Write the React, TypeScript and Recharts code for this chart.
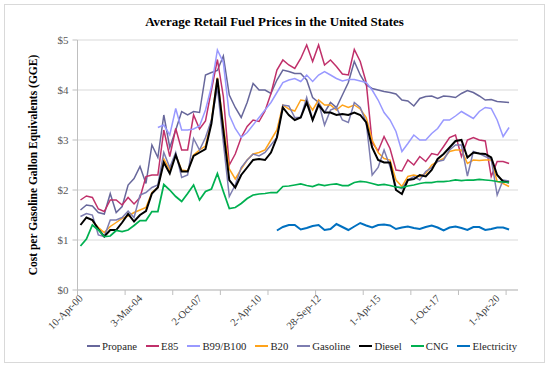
import React from 'react';
import { LineChart, Line, XAxis, YAxis, CartesianGrid, Legend, Label } from 'recharts';

// Report dates (category axis). The last row has no prices yet.
const dates = [
  '10-Apr-00', '7-Aug-00', '11-Dec-00', '16-Apr-01', '6-Aug-01', '10-Dec-01', '15-Apr-02', '19-Aug-02', '16-Dec-02', '21-Jul-03',
  '3-Mar-04', '21-Jun-04', '18-Oct-04', '14-Feb-05', '20-Jun-05', '24-Oct-05', '13-Mar-06', '17-Jul-06', '20-Nov-06', '7-Jun-07',
  '2-Oct-07', '7-Jan-08', '1-Apr-08', '1-Jul-08', '1-Oct-08', '5-Jan-09', '1-Apr-09', '1-Jul-09', '1-Oct-09', '5-Jan-10',
  '2-Apr-10', '1-Jul-10', '1-Oct-10', '3-Jan-11', '1-Apr-11', '1-Jul-11', '3-Oct-11', '3-Jan-12', '2-Apr-12', '2-Jul-12',
  '28-Sep-12', '2-Jan-13', '1-Apr-13', '1-Jul-13', '1-Oct-13', '2-Jan-14', '1-Apr-14', '1-Jul-14', '1-Oct-14', '2-Jan-15',
  '1-Apr-15', '1-Jul-15', '1-Oct-15', '4-Jan-16', '1-Apr-16', '1-Jul-16', '3-Oct-16', '3-Jan-17', '3-Apr-17', '3-Jul-17',
  '1-Oct-17', '2-Jan-18', '2-Apr-18', '2-Jul-18', '1-Oct-18', '2-Jan-19', '1-Apr-19', '1-Jul-19', '1-Oct-19', '2-Jan-20',
  '1-Apr-20', '1-Jul-20', '1-Oct-20', '4-Jan-21',
];

const propane = [
  1.6, 1.7, 1.68, 1.55, 1.52, 1.93, 1.55, 1.67, 2.1, 2.23,
  2.47, 2.13, 2.9, 2.65, 3.5, 2.85, 3.2, 3.57, 3.5, 3.57,
  3.55, 4.3, 4.35, 4.39, 4.68, 3.9, 3.65, 3.45, 3.75, 4.13,
  4.0, 4.0, 3.93, 4.2, 4.4, 4.37, 4.33, 4.33, 4.2, 3.85,
  3.75, 3.55, 3.75, 3.65, 3.9, 4.15, 4.57, 4.3, 4.1, 4.03,
  4.0, 3.97, 3.95, 3.92, 3.8, 3.78, 3.68, 3.83, 3.87, 3.88,
  3.83, 3.88, 3.87, 3.85, 3.93, 3.99, 3.95, 3.88, 3.8, 3.81,
  3.77, 3.76, 3.75,
];

const e85 = [
  1.8, 1.88, 1.85, 1.62, 1.57, 1.8, 1.8, 1.7, 1.85, 1.72,
  1.85, 2.27, 2.3, 2.3, 3.2, 2.67, 3.23, 2.8, 2.8, 3.5,
  3.22, 3.38, 4.0, 4.61, 3.87, 2.5, 2.72, 3.05, 3.27, 3.4,
  3.37, 3.58, 3.93, 4.4, 4.6, 4.5, 4.43, 4.63, 4.9, 4.57,
  4.9, 4.5, 4.6, 4.47, 4.32, 4.3, 4.81, 4.57, 4.15, 2.95,
  2.78, 3.07, 2.83, 2.4, 2.38, 2.6, 2.5, 2.67, 2.57, 2.73,
  2.7, 2.87, 3.05, 3.1, 2.67, 3.0, 3.05, 3.0, 2.98, 2.27,
  2.57, 2.57, 2.53,
];

const b99 = [
  null, null, null, null, null, null, null, null, null, null,
  null, null, null, 3.25, 3.3, 3.1, 3.63, 3.2, 3.2, 3.22,
  3.28, 3.6, 4.07, 4.8, 4.55, 3.5, 3.23, 3.05, 3.15, 3.3,
  3.45, 3.6, 3.75, 3.95, 4.15, 4.2, 4.23, 4.17, 4.3, 4.17,
  4.3, 4.37, 4.3, 4.23, 4.18, 4.21, 4.21, 4.18, 4.15, 4.0,
  3.8, 3.55, 3.4, 3.17, 2.77, 2.93, 3.1, 3.0, 3.0, 3.13,
  3.23, 3.4, 3.4, 3.48, 3.57, 3.5, 3.43, 3.57, 3.65, 3.63,
  3.4, 3.07, 3.25,
];

const b20 = [
  null, null, 1.38, 1.25, 1.15, 1.27, 1.35, 1.43, 1.48, 1.55,
  1.6, 1.65, 1.95, 2.05, 2.62, 2.4, 2.7, 2.4, 2.38, 2.7,
  2.8, 2.88, 3.4, 4.25, 3.3, 2.42, 2.22, 2.42, 2.6, 2.72,
  2.75, 2.8, 3.0, 3.2, 3.7, 3.62, 3.58, 3.8, 3.78, 3.6,
  3.8, 3.7, 3.7, 3.6, 3.7, 3.65, 3.7, 3.62, 3.45, 3.0,
  2.75, 2.63, 2.6, 2.2, 2.07, 2.27, 2.3, 2.27, 2.33, 2.5,
  2.57, 2.63, 2.77, 2.8, 2.8, 2.53, 2.6, 2.59, 2.6, 2.6,
  2.17, 2.13, 2.07,
];

const gasoline = [
  1.47, 1.53, 1.5, 1.1, 1.07, 1.4, 1.4, 1.45, 1.58, 1.45,
  1.9, 1.95, 2.05, 2.1, 2.75, 2.45, 2.75, 2.25, 2.3, 3.03,
  2.8, 3.05, 3.4, 4.05, 2.95, 1.87, 2.1, 2.45, 2.6, 2.72,
  2.68, 2.75, 2.9, 3.05, 3.7, 3.68, 3.45, 3.45, 3.85, 3.4,
  3.75, 3.3, 3.6, 3.65, 3.4, 3.35, 3.75, 3.65, 3.35, 2.3,
  2.45, 2.8, 2.47, 2.07, 2.03, 2.2, 2.27, 2.2, 2.37, 2.45,
  2.57, 2.6, 2.8, 2.9, 2.9, 2.28, 2.77, 2.73, 2.67, 2.62,
  1.9, 2.2, 2.18,
];

const diesel = [
  1.3, 1.45, 1.4, 1.22, 1.07, 1.2, 1.2, 1.35, 1.52, 1.37,
  1.5, 1.58, 1.93, 2.05, 2.55, 2.33, 2.7, 2.37, 2.37, 2.68,
  2.75, 2.82, 3.33, 4.23, 3.2, 2.2, 2.05, 2.3, 2.45, 2.6,
  2.62, 2.6, 2.75, 3.05, 3.65, 3.5, 3.4, 3.45, 3.75, 3.4,
  3.7, 3.55, 3.55, 3.5, 3.52, 3.5, 3.55, 3.5, 3.35, 2.85,
  2.6, 2.55, 2.55, 2.0, 1.92, 2.2, 2.22, 2.3, 2.27, 2.4,
  2.62, 2.72, 2.85, 2.98, 3.0, 2.65, 2.75, 2.73, 2.72, 2.65,
  2.3, 2.17, 2.15,
];

const cng = [
  0.88, 1.02, 1.3, 1.2, 1.07, 1.08, 1.19, 1.17, 1.2, 1.29,
  1.39, 1.39, 1.57, 1.57, 2.11, 2.0, 1.87, 1.77, 1.93, 2.1,
  1.8, 1.97, 2.02, 2.33, 1.97, 1.63, 1.65, 1.73, 1.83, 1.9,
  1.92, 1.93, 1.95, 1.95, 2.07, 2.08, 2.1, 2.12, 2.09, 2.07,
  2.11, 2.09, 2.11, 2.12, 2.09, 2.09, 2.15, 2.17, 2.16, 2.13,
  2.1, 2.11, 2.09, 2.06, 2.05, 2.08, 2.1, 2.13, 2.15, 2.15,
  2.17, 2.17, 2.18, 2.2, 2.19, 2.2, 2.2, 2.21, 2.2, 2.19,
  2.17, 2.16, 2.15,
];

const electricity = [
  null, null, null, null, null, null, null, null, null, null,
  null, null, null, null, null, null, null, null, null, null,
  null, null, null, null, null, null, null, null, null, null,
  null, null, null, 1.19, 1.26, 1.3, 1.3, 1.21, 1.24, 1.28,
  1.3, 1.2, 1.22, 1.32, 1.26, 1.2, 1.27, 1.34, 1.29, 1.25,
  1.3, 1.31, 1.29, 1.22, 1.25, 1.27, 1.24, 1.22, 1.26, 1.29,
  1.25, 1.19, 1.25, 1.27, 1.24, 1.2, 1.26, 1.26, 1.2, 1.22,
  1.25, 1.25, 1.21,
];

const yTicks = [0, 1, 2, 3, 4, 5];

const series = [
  { name: 'Propane', values: propane, color: '#67679b', width: 1.5 },
  { name: 'E85', values: e85, color: '#c0306a', width: 1.5 },
  { name: 'B99/B100', values: b99, color: '#9999ff', width: 1.5 },
  { name: 'B20', values: b20, color: '#ffa31a', width: 1.5 },
  { name: 'Gasoline', values: gasoline, color: '#7d7db0', width: 1.5 },
  { name: 'Diesel', values: diesel, color: '#000000', width: 2 },
  { name: 'CNG', values: cng, color: '#00b050', width: 1.75 },
  { name: 'Electricity', values: electricity, color: '#0070c0', width: 2 },
];

const rows = dates.map((date, i) => {
  const row: Record<string, string | number | null> = { date };
  series.forEach((s) => {
    const v = s.values[i];
    row[s.name] = v === undefined ? null : v;
  });
  return row;
});

const FONT = "'Liberation Serif', serif";

// tick marks sit on category borders every 8 reports, labels every 10 reports
function DateTick(props: any) {
  const { x, y, payload, index } = props;
  const half = payload && payload.offset ? payload.offset : 0;
  const lx = x + 3;
  const ly = y + 9;
  return (
    <g>
      {index % 8 === 0 && (
        <line x1={x - half} x2={x - half} y1={y} y2={y + 5} stroke="#bfbfbf" />
      )}
      {index % 10 === 0 && (
        <text
          x={lx}
          y={ly}
          transform={`rotate(-45 ${lx} ${ly})`}
          textAnchor="end"
          fontSize={10.5}
          fontFamily={FONT}
          fill="#404040"
        >
          {payload.value}
        </text>
      )}
    </g>
  );
}

function PriceTick(props: any) {
  const { x, y, payload } = props;
  return (
    <text x={x} y={y} dy={4} textAnchor="end" fontSize={11} fontFamily={FONT} fill="#595959">
      {`$${payload.value}`}
    </text>
  );
}

// keep the legend in series order (recharts sorts it by name otherwise)
function LegendRow() {
  return (
    <div
      style={{
        display: 'flex',
        justifyContent: 'space-between',
        alignItems: 'center',
        fontFamily: FONT,
        fontSize: 10.7,
        color: '#262626',
      }}
    >
      {series.map((s) => (
        <div key={s.name} style={{ display: 'flex', alignItems: 'center' }}>
          <svg width={13} height={4} style={{ marginRight: 2 }}>
            <line x1={0} y1={2} x2={13} y2={2} stroke={s.color} strokeWidth={2} />
          </svg>
          <span>{s.name}</span>
        </div>
      ))}
    </div>
  );
}

export default function App() {
  return (
    <div
      style={{
        position: 'absolute',
        left: 0,
        top: 0,
        width: 550,
        height: 369,
        background: '#fff',
        fontFamily: FONT,
      }}
    >
      <div
        style={{
          position: 'absolute',
          left: 4,
          top: 4,
          width: 541,
          height: 359,
          border: '1px solid #d9d9d9',
          boxSizing: 'border-box',
        }}
      />
      <div
        style={{
          position: 'absolute',
          left: 0,
          top: 14,
          width: 549,
          textAlign: 'center',
          fontWeight: 'bold',
          fontSize: 13,
          lineHeight: '16px',
          color: '#000',
        }}
      >
        Average Retail Fuel Prices in the United States
      </div>
      <LineChart
        width={550}
        height={369}
        data={rows}
        margin={{ top: 40, right: 32, bottom: 59, left: 0 }}
        style={{ position: 'absolute', left: 0, top: 0 }}
      >
        <CartesianGrid vertical={false} stroke="#d9d9d9" />
        <XAxis
          dataKey="date"
          scale="band"
          height={20}
          interval={0}
          tickLine={false}
          tickSize={0}
          tickMargin={0}
          axisLine={{ stroke: '#bfbfbf' }}
          tick={<DateTick />}
        />
        <YAxis
          width={77.5}
          domain={[0, 5]}
          ticks={yTicks}
          tickSize={5}
          tickMargin={4}
          tickLine={{ stroke: '#bfbfbf' }}
          axisLine={{ stroke: '#bfbfbf' }}
          tick={<PriceTick />}
        >
          <Label
            content={() => (
              <text
                x={33}
                y={165}
                transform="rotate(-90 33 165)"
                textAnchor="middle"
                dominantBaseline="central"
                fontSize={11.5}
                fontWeight="bold"
                fontFamily={FONT}
                fill="#000"
              >
                Cost per Gasoline Gallon Equivalents (GGE)
              </text>
            )}
          />
        </YAxis>
        <Legend
          layout="horizontal"
          verticalAlign="middle"
          align="center"
          wrapperStyle={{ top: 340, left: 87, width: 430 }}
          content={<LegendRow />}
        />
        {series.map((s) => (
          <Line
            key={s.name}
            type="linear"
            dataKey={s.name}
            stroke={s.color}
            strokeWidth={s.width}
            dot={false}
            activeDot={false}
            isAnimationActive={false}
          />
        ))}
      </LineChart>
    </div>
  );
}
